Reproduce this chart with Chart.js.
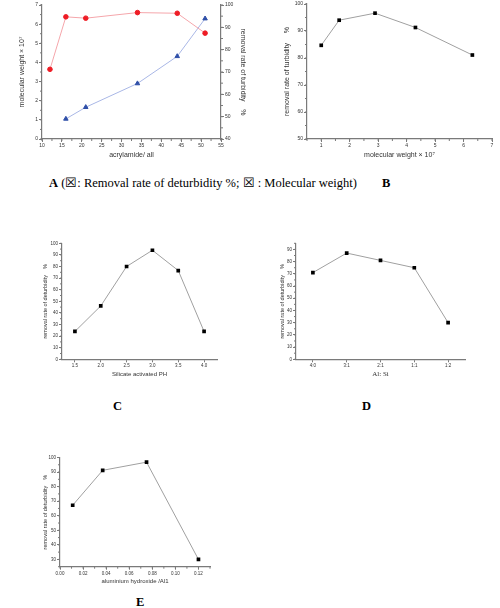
<!DOCTYPE html>
<html>
<head>
<meta charset="utf-8">
<script src="https://cdn.jsdelivr.net/npm/chart.js@4.4.0/dist/chart.umd.min.js"></script>
<style>
body{margin:0;background:#fff;width:500px;height:608px;position:relative;overflow:hidden}
.box{position:absolute}
.cap{position:absolute;font-family:"Liberation Serif",serif;font-size:12.5px;font-weight:normal;color:#000;white-space:nowrap;line-height:13px}
</style>
</head>
<body>
<div class="box" style="left:0;top:0;width:250px;height:165px"><canvas id="chartA"></canvas></div>
<div class="box" style="left:250px;top:0;width:250px;height:165px"><canvas id="chartB"></canvas></div>
<div class="box" style="left:0;top:230px;width:250px;height:165px"><canvas id="chartC"></canvas></div>
<div class="box" style="left:250px;top:230px;width:250px;height:165px"><canvas id="chartD"></canvas></div>
<div class="box" style="left:0;top:420px;width:250px;height:170px"><canvas id="chartE"></canvas></div>

<div class="cap" style="left:49px;top:177px"><b>A</b> (☒: Removal rate of deturbidity %; ☒ : Molecular weight)</div>
<div class="cap" style="left:382px;top:177px"><b>B</b></div>
<div class="cap" style="left:113px;top:400px"><b>C</b></div>
<div class="cap" style="left:362px;top:400px"><b>D</b></div>
<div class="cap" style="left:136px;top:596px"><b>E</b></div>

<script>
// panel A: acrylamide ratio vs removal rate / molecular weight
var acrylamide = [12, 16, 21, 34, 44, 51];
var removalA = [71.2, 94.7, 94.1, 96.6, 96.3, 87.4];
var acrylamideMW = [16, 21, 34, 44, 51];
var molWeightA = [1.05, 1.66, 2.9, 4.32, 6.29];

// panel B: molecular weight vs removal rate
var molWeightB = [1.0, 1.63, 2.89, 4.31, 6.31];
var removalB = [84.7, 94.0, 96.6, 91.3, 81.1];

// panel C: silicate activated pH
var phLabels = ['1.5', '2.0', '2.5', '3.0', '3.5', '4.0'];
var removalC = [24, 46, 80, 94, 76.5, 24];

// panel D: Al : Si ratio
var ratioLabels = ['4:0', '3:1', '2:1', '1:1', '1:2'];
var removalD = [71, 87, 81, 75, 30];

// panel E: aluminium hydroxide
var hydroxide = [0.011, 0.037, 0.075, 0.12];
var removalE = [67.2, 91.2, 96.8, 30];

Chart.defaults.font.family = '"Liberation Sans", Arial, sans-serif';
Chart.defaults.color = '#333';
Chart.defaults.animation = false;

var axisColor = '#7a7a7a';
var tickFont = {size: 5};
var titleFont = {size: 7};

// short unlabeled ticks between the major ones
var minorTicks = {
    id: 'minorTicks',
    afterDraw: function(chart, args, opts) {
        var ctx = chart.ctx;
        ctx.save();
        ctx.strokeStyle = axisColor;
        ctx.lineWidth = 1;
        var steps = opts.steps || {};
        Object.keys(steps).forEach(function(id) {
            var s = chart.scales[id];
            var step = steps[id];
            var start = Math.ceil(s.min / step - 1e-6);
            for (var k = start; k * step <= s.max + 1e-9; k++) {
                var v = k * step;
                ctx.beginPath();
                if (s.isHorizontal()) {
                    var px = s.getPixelForValue(v);
                    ctx.moveTo(px, s.top); ctx.lineTo(px, s.top + 2);
                } else if (s.position === 'left') {
                    var py = s.getPixelForValue(v);
                    ctx.moveTo(s.right, py); ctx.lineTo(s.right - 2, py);
                } else {
                    var py2 = s.getPixelForValue(v);
                    ctx.moveTo(s.left, py2); ctx.lineTo(s.left + 2, py2);
                }
                ctx.stroke();
            }
        });
        ctx.restore();
    }
};

function axis(extra, size, title, titlePad) {
    var o = {
        border: {color: axisColor, width: 1.2},
        grid: {drawOnChartArea: false, color: axisColor, tickLength: 3},
        ticks: {font: tickFont, padding: 1, includeBounds: false},
        title: {display: !!title, text: title, font: titleFont, padding: titlePad, color: '#333'},
        afterFit: function(s) {
            if (s.isHorizontal()) s.height = size; else s.width = size;
        }
    };
    for (var k in extra) {
        if (k === 'ticks') Object.assign(o.ticks, extra.ticks);
        else if (k === 'title') Object.assign(o.title, extra.title);
        else o[k] = extra[k];
    }
    return o;
}

function pairs(xs, ys) {
    return xs.map(function(x, i) { return {x: x, y: ys[i]}; });
}

function blackLine(data) {
    return {
        data: data,
        borderColor: '#a0a0a0',
        borderWidth: 1,
        pointStyle: 'rect',
        pointRadius: 2.6,
        pointBackgroundColor: '#000',
        pointBorderColor: '#000',
        pointBorderWidth: 0
    };
}

// A
new Chart(document.getElementById('chartA'), {
    type: 'line',
    data: {
        datasets: [{
            label: 'Removal rate of deturbidity %',
            data: pairs(acrylamide, removalA),
            yAxisID: 'yR',
            borderColor: '#f5a6ab',
            borderWidth: 1,
            pointStyle: 'circle',
            pointRadius: 2.3,
            pointBackgroundColor: '#ee1c25',
            pointBorderColor: '#ee1c25'
        }, {
            label: 'Molecular weight',
            data: pairs(acrylamideMW, molWeightA),
            yAxisID: 'y',
            borderColor: '#a9b7e6',
            borderWidth: 1,
            pointStyle: 'triangle',
            pointRadius: 2.6,
            pointBackgroundColor: '#2f4fa8',
            pointBorderColor: '#2f4fa8'
        }]
    },
    options: {
        responsive: true,
        maintainAspectRatio: false,
        layout: {padding: {top: 3, left: 0, right: 0, bottom: 0}},
        plugins: {legend: {display: false}, tooltip: {enabled: false},
            minorTicks: {steps: {x: 2.5, y: 0.5, yR: 5}}},
        scales: {
            x: axis({type: 'linear', min: 10, max: 55, ticks: {stepSize: 5}}, 26, 'acrylamide/ all', {top: 0, bottom: 5.8}),
            y: axis({type: 'linear', position: 'left', min: 0, max: 7, ticks: {stepSize: 1}}, 42, 'molecular weight \u00d7 10\u2077', {top: 17.8, bottom: 0}),
            yR: axis({type: 'linear', position: 'right', min: 40, max: 100, ticks: {stepSize: 10}}, 29, 'removal rate of turbidity    %', {top: 2.8, bottom: 0})
        }
    },
    plugins: [minorTicks]
});

// B
new Chart(document.getElementById('chartB'), {
    type: 'line',
    data: {datasets: [blackLine(pairs(molWeightB, removalB))]},
    options: {
        responsive: true,
        maintainAspectRatio: false,
        layout: {padding: {top: 3, left: 0, right: 8, bottom: 0}},
        plugins: {legend: {display: false}, tooltip: {enabled: false},
            minorTicks: {steps: {x: 0.5, y: 5}}},
        scales: {
            x: axis({type: 'linear', min: 0.5, max: 7, ticks: {stepSize: 1}}, 26, 'molecular weight \u00d7 10\u2077', {top: 0, bottom: 5.8}),
            y: axis({type: 'linear', position: 'left', min: 50, max: 100, ticks: {stepSize: 10}}, 57, 'removal rate of turbidity     %', {top: 32.8, bottom: 0})
        }
    },
    plugins: [minorTicks]
});

// C
new Chart(document.getElementById('chartC'), {
    type: 'line',
    data: {labels: phLabels, datasets: [blackLine(removalC)]},
    options: {
        responsive: true,
        maintainAspectRatio: false,
        layout: {padding: {top: 13.3, left: 0, right: 33, bottom: 0}},
        plugins: {legend: {display: false}, tooltip: {enabled: false},
            minorTicks: {steps: {y: 5}}},
        scales: {
            x: axis({type: 'category', offset: true, ticks: {font: {size: 4.5}}, title: {font: {size: 6}}}, 35.7, 'Silicate activated PH', {top: 0, bottom: 17.4}),
            y: axis({type: 'linear', position: 'left', min: 0, max: 100, ticks: {stepSize: 10, font: {size: 4.5}}, title: {font: {size: 5.5}}}, 62, 'removal rate of deturbidity    %', {top: 42, bottom: 0})
        }
    },
    plugins: [minorTicks]
});

// D
new Chart(document.getElementById('chartD'), {
    type: 'line',
    data: {labels: ratioLabels, datasets: [blackLine(removalD)]},
    options: {
        responsive: true,
        maintainAspectRatio: false,
        layout: {padding: {top: 13.3, left: 0, right: 35, bottom: 0}},
        plugins: {legend: {display: false}, tooltip: {enabled: false},
            minorTicks: {steps: {y: 5}}},
        scales: {
            x: axis({type: 'category', offset: true, ticks: {font: {size: 4.5}},
                title: {font: {size: 7, family: '"Liberation Serif", serif'}}}, 35.7, 'Al: Si', {top: 0, bottom: 17}),
            y: axis({type: 'linear', position: 'left', min: 0, max: 95, ticks: {stepSize: 10, font: {size: 4.5}}, title: {font: {size: 5.5}}}, 46, 'removal rate of deturbidity    %', {top: 29, bottom: 0})
        }
    },
    plugins: [minorTicks]
});

// E
new Chart(document.getElementById('chartE'), {
    type: 'line',
    data: {datasets: [blackLine(pairs(hydroxide, removalE))]},
    options: {
        responsive: true,
        maintainAspectRatio: false,
        layout: {padding: {top: 37.5, left: 0, right: 40, bottom: 0}},
        plugins: {legend: {display: false}, tooltip: {enabled: false},
            minorTicks: {steps: {x: 0.01, y: 5}}},
        scales: {
            x: axis({type: 'linear', min: 0, max: 0.13, ticks: {stepSize: 0.02, font: {size: 4.5},
                callback: function(v) { return v.toFixed(2); }}, title: {font: {size: 6}}}, 23.3, 'aluminium hydroxide /Al1', {top: 0, bottom: 5.4}),
            y: axis({type: 'linear', position: 'left', min: 25, max: 100, ticks: {stepSize: 10, font: {size: 4.5}}, title: {font: {size: 5.5}}}, 60, 'removal rate of deturbidity    %', {top: 42, bottom: 0})
        }
    },
    plugins: [minorTicks]
});
</script>
</body>
</html>
